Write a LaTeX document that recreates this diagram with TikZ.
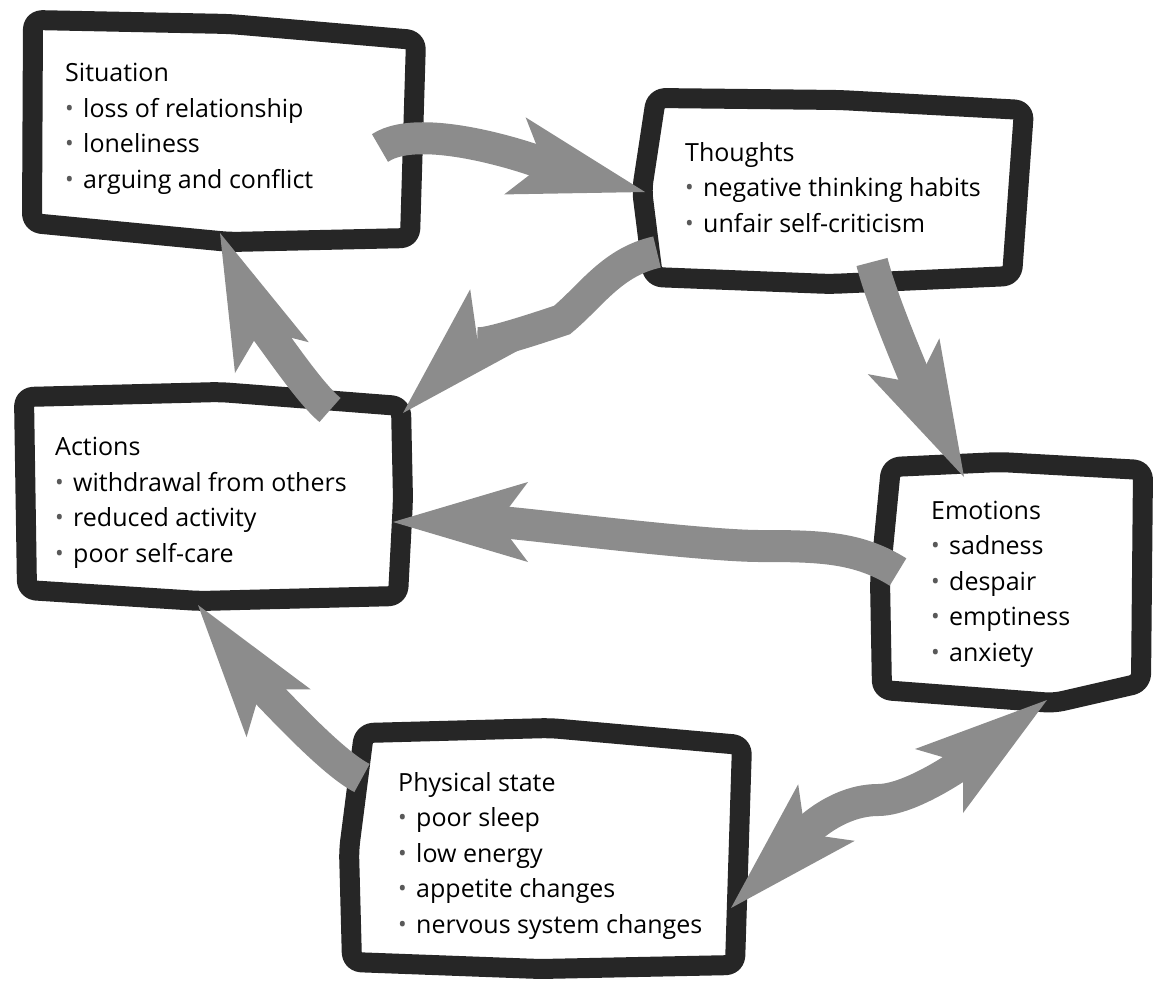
\documentclass[tikz,border=0pt]{standalone}
\usepackage{fontspec}
\setmainfont{Open Sans}
\usetikzlibrary{arrows.meta}
\newcommand{\itm}{\makebox[18pt][l]{\raisebox{1pt}{\textcolor{black!65}{\fontsize{23}{23}\selectfont\textbullet}}}}
\tikzset{bighead/.tip={Stealth[length=135pt, width=80pt, inset=30pt, line width=0pt]}}

\begin{document}
\begin{tikzpicture}[x=1pt, y=-1pt,
	boxline/.style={draw=black!85, line width=20pt, fill=white, rounded corners=9pt, line join=round},
	ribbon/.style={draw=black!45, line width=32pt, -bighead},
	txt/.style={anchor=base west, align=left, inner sep=0pt, font=\fontsize{25}{35.5}\selectfont}]
	\useasboundingbox (0,0) rectangle (1154,989);
	
	% frames
	\draw[boxline] (33,20) -- (230,24) -- (416,40) -- (410,238) -- (230,242) -- (32,223) -- cycle;
	\draw[boxline] (656,98) -- (840,100) -- (1024,110) -- (1012,276) -- (830,284) -- (653,277) -- (642,190) -- cycle;
	\draw[boxline] (24,397) -- (220,392) -- (401,406) -- (403,500) -- (398,596) -- (200,601) -- (27,590) -- cycle;
	\draw[boxline] (891,467) -- (1000,462) -- (1143,470) -- (1141,683) -- (1054,703) -- (882,690) -- (880,580) -- cycle;
	\draw[boxline] (364,733) -- (550,728) -- (742,745) -- (735,965) -- (540,969) -- (352,962) -- (349,850) -- cycle;
	
	% arrow ends
	\coordinate (sit-r) at (380,148); \coordinate (tho-l) at (645,192);
	\coordinate (tho-b) at (872,262); \coordinate (emo-t) at (964,477);
	\coordinate (tho-bl) at (657,252); \coordinate (c-mid) at (562,320); \coordinate (act-tr) at (403,413);
	\coordinate (act-t) at (330,410); \coordinate (sit-b) at (220,233);
	\coordinate (emo-l) at (898,572); \coordinate (e-mid) at (760,546); \coordinate (act-r) at (393,522);
	\coordinate (phy-tl) at (362,778); \coordinate (act-b) at (198,605);
	\coordinate (phy-r) at (731,908); \coordinate (g-mid) at (878,800); \coordinate (emo-b) at (1047,700);
	
	\draw[ribbon] (sit-r) .. controls +(45,-30) and +(-90,-25) .. (tho-l);
	\draw[ribbon] (tho-b) .. controls +(10,40) and +(-45,-90) .. (emo-t);
	\draw[ribbon] (tho-bl) .. controls +(-45,10) and +(30,-25) .. (c-mid) .. controls +(-30,10) and +(60,-60) .. (act-tr);
	\draw[ribbon] (act-t) .. controls +(-30,-25) and +(25,60) .. (sit-b);
	\draw[ribbon] (emo-l) .. controls +(-40,-25) and +(60,0) .. (e-mid) .. controls +(-60,0) and +(120,0) .. (act-r);
	\draw[ribbon] (phy-tl) .. controls +(-40,-20) and +(35,47) .. (act-b);
	\draw[ribbon, bighead-bighead] (phy-r) .. controls +(60,-60) and +(-50,0) .. (g-mid) .. controls +(40,0) and +(-60,45) .. (emo-b);
	
	% texts (base = last line)
	\node[txt] (sit) at (65,188) {Situation\\\itm loss of relationship\\\itm loneliness\\\itm arguing and conflict};
	\node[txt] (tho) at (685,232) {Thoughts\\\itm negative thinking habits\\\itm unfair self-criticism};
	\node[txt] (act) at (55,562) {Actions\\\itm withdrawal from others\\\itm reduced activity\\\itm poor self-care};
	\node[txt] (emo) at (931,661) {Emotions\\\itm sadness\\\itm despair\\\itm emptiness\\\itm anxiety};
	\node[txt] (phy) at (398,933) {Physical state\\\itm poor sleep\\\itm low energy\\\itm appetite changes\\\itm nervous system changes};
\end{tikzpicture}
\end{document}
